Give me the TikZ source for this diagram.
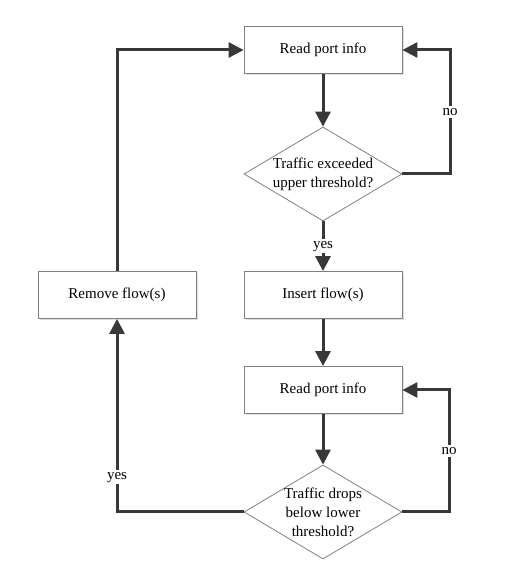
\documentclass[tikz,border=0pt]{standalone}
\usepackage{fontspec}
\setmainfont{Liberation Serif}
\usetikzlibrary{arrows.meta}
\usetikzlibrary{shapes.geometric}
\usetikzlibrary{shadows}

\begin{document}
\begin{tikzpicture}[x=1pt,y=1pt,>={Triangle[length=15pt,width=15pt]},
    font=\fontsize{15}{19}\selectfont,
    stepbox/.style={draw=black!50,line width=0.8pt,fill=white,
        minimum width=158pt,minimum height=47pt,inner sep=0pt,
        drop shadow={shadow xshift=1.5pt,shadow yshift=-1.5pt,opacity=0.25}},
    decision/.style={diamond,draw=black!50,line width=0.8pt,fill=white,
        aspect=1.68,minimum width=158pt,minimum height=94pt,inner sep=-4pt,
        align=center},
    flow/.style={draw=black!78,line width=3pt},
    lbl/.style={fill=white,inner sep=2pt}]
\useasboundingbox (0,0) rectangle (506,575);
% boxes
\node[stepbox] (read1) at (323,525) {Read port info};
\node[decision] (dec1) at (323,401) {Traffic exceeded\\upper threshold?};
\node[stepbox] (insert) at (323,280) {Insert flow(s)};
\node[stepbox] (remove) at (117,280) {Remove flow(s)};
\node[stepbox] (read2) at (323,185) {Read port info};
\node[decision] (dec2) at (323,63) {Traffic drops\\below lower\\threshold?};
\coordinate (rtop) at (450,0);
\coordinate (rbot) at (449,0);
% arrows
\draw[flow,->] (read1) -- (dec1);
\draw[flow,->] (dec1) -- node[lbl] {yes} (insert);
\draw[flow,->] (insert) -- (read2);
\draw[flow,->] (read2) -- (dec2);
\draw[flow,->] (dec1.east) -- (dec1.east -| rtop) -- node[lbl] {no} (read1.east -| rtop) -- (read1.east);
\draw[flow,->] (dec2.east) -- (dec2.east -| rbot) -- node[lbl] {no} (read2.east -| rbot) -- (read2.east);
\draw[flow,->] (dec2.west) -- (dec2.west -| remove) -- node[lbl,pos=0.18] {yes} (remove.south);
\draw[flow,->] (remove.north) -- (read1.west -| remove) -- (read1.west);
\end{tikzpicture}
\end{document}
